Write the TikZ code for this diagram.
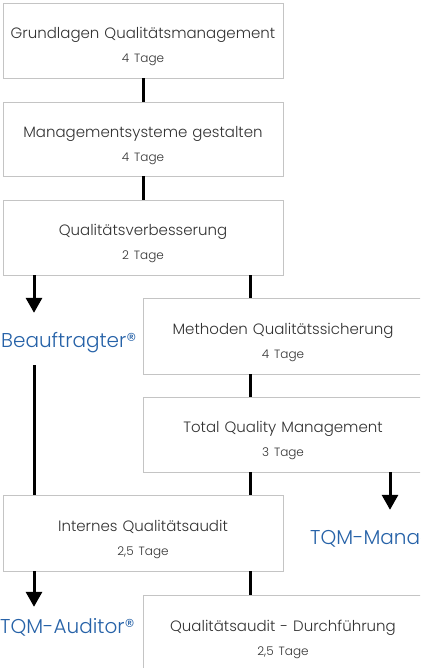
\documentclass[tikz,border=0pt]{standalone}
\usepackage{fontspec}
\IfFontExistsTF{Poppins Light}{\setmainfont{Poppins Light}}{\setmainfont{Poppins}}
\usepackage{tikz}
\usetikzlibrary{arrows.meta, positioning, calc}
\usepackage{xcolor}
\definecolor{kursgrau}{RGB}{196, 196, 196}
\definecolor{textgrau}{RGB}{50, 50, 50}
\definecolor{zielblau}{RGB}{38, 98, 168}

\tikzset{
  kurs/.style={draw=kursgrau, fill=white, line width=0.9pt,
    minimum width=280pt, minimum height=75pt, inner sep=0pt,
    text width=276pt, align=center, text=textgrau, text height=24pt,
    font=\fontsize{15}{18}\selectfont},
  ziel/.style={text=zielblau, inner sep=0pt, text height=34pt,
    text depth=18pt, font=\fontsize{20}{24}\selectfont},
  linie/.style={line width=3pt, black},
  pfeil/.style={linie, -{Triangle[width=16pt, length=15pt]}}
}
\newcommand{\tage}[1]{\\[6pt]{\fontsize{12}{14}\selectfont #1}}

\begin{document}
\begin{tikzpicture}[x=1pt, y=1pt]
  \useasboundingbox (0,0) rectangle (420,-668);
  \clip (0,0) rectangle (420,-668);
  \fill[white] (0,0) rectangle (420,-668);

  % Spalten der Verbindungen
  \coordinate (links) at (34,0);
  \coordinate (rechts) at (250,0);
  \coordinate (aussen) at (390,0);

  % Kurse
  \node[kurs] (grundlagen) at (143,-40.5)
    {Grundlagen Qualitätsmanagement\tage{4 Tage}};
  \node[kurs, minimum height=74pt] (gestalten) at (143,-139)
    {Managementsysteme gestalten\tage{4 Tage}};
  \node[kurs] (verbesserung) at (143,-237.5)
    {Qualitätsverbesserung\tage{2 Tage}};
  \node[kurs, minimum height=76pt] (methoden) at (283,-336)
    {Methoden Qualitätssicherung\tage{4 Tage}};
  \node[kurs] (tqm) at (283,-434.5)
    {Total Quality Management\tage{3 Tage}};
  \node[kurs, minimum height=76pt] (internes) at (143,-533)
    {Internes Qualitätsaudit\tage{2,5 Tage}};
  \node[kurs, minimum height=76pt] (durchfuehrung) at (283,-633)
    {Qualitätsaudit - Durchführung\tage{2,5 Tage}};

  % Abschluesse
  \node[ziel, anchor=base west] (beauftragter) at (1,-347) {Beauftragter®};
  \node[ziel, anchor=base west] (manager) at (310,-544) {TQM-Manager®};
  \node[ziel, anchor=base west, text height=26pt] (auditor) at (0,-633) {TQM-Auditor®};

  % Verbindungen
  \draw[linie] (grundlagen) -- (gestalten);
  \draw[linie] (gestalten) -- (verbesserung);
  \draw[pfeil] (verbesserung.south -| links) -- (beauftragter.north -| links);
  \draw[linie] (verbesserung.south -| rechts) -- (methoden.north -| rechts);
  \draw[linie] (beauftragter.south -| links) -- (internes.north -| links);
  \draw[linie] (methoden.south -| rechts) -- (tqm.north -| rechts);
  \draw[linie] (tqm.south -| rechts) -- (internes.north -| rechts);
  \draw[pfeil] (tqm.south -| aussen) -- (manager.north -| aussen);
  \draw[pfeil] (internes.south -| links) -- (auditor.north -| links);
  \draw[linie] (internes.south -| rechts) -- (durchfuehrung.north -| rechts);
\end{tikzpicture}
\end{document}
